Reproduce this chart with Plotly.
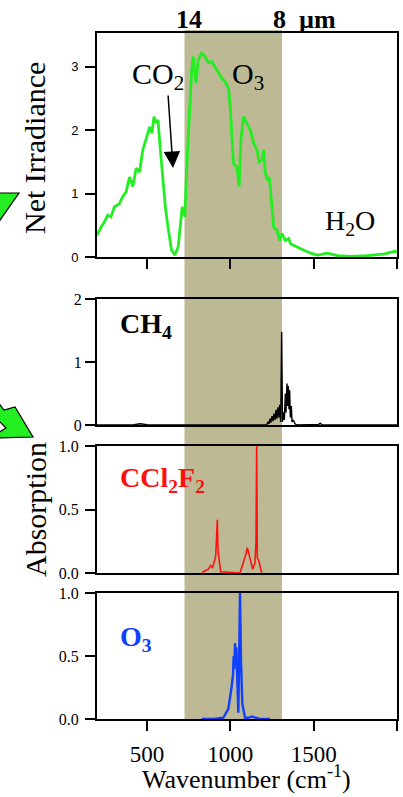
import plotly.graph_objects as go

# ---------------- data ----------------
irr_wn = [200,224,244,264,284,304,334,354,375,395,415,435,455,475,496,516,530,542,556,566,
          580,596,610,626,647,667,687,711,727,737,753,767,777,794,808,828,848,868,888,908,
          928,948,969,989,999,1009,1019,1039,1053,1063,1079,1099,1120,1140,1160,1173,1190,1200,1210,1224,
          1234,1246,1260,1280,1296,1310,1330,1350,1361,1422,1482,1523,1583,1643,1724,1820,1925,1986,2000]
irr_val = [0.34,0.47,0.55,0.66,0.63,0.79,0.84,0.95,1.03,1.26,1.11,1.40,1.34,1.69,1.87,2.05,1.95,2.21,2.11,2.16,
           1.69,1.21,0.79,0.47,0.11,0.03,0.16,0.79,0.63,1.32,2.11,2.90,3.16,2.74,3.11,3.21,3.16,3.06,3.08,3.00,
           2.92,2.82,2.76,2.66,2.37,1.95,1.47,1.42,1.11,1.84,2.21,2.11,2.00,1.79,1.69,1.50,1.53,1.69,1.32,1.21,
           1.26,0.90,0.47,0.42,0.26,0.37,0.26,0.29,0.21,0.13,0.06,0.03,0.06,0.02,0.01,0.02,0.05,0.09,0.08]

ch4_wn = [200,300,420,460,500,600,800,1000,1200,1218,1226,1232,1238,1244,1250,1256,1262,1268,1274,1280,
          1286,1292,1296,1302,1308,1313,1318,1324,1330,1334,1340,1344,1348,1352,1356,1360,1366,1370,1378,1388,
          1400,1500,1530,1540,1550,1600,1800,2000]
ch4_val = [0,0,0.005,0.02,0.005,0,0,0,0,0,0.05,0.02,0.10,0.04,0.14,0.06,0.18,0.08,0.24,0.10,
           0.28,0.12,0.32,0.05,1.48,0.05,0.20,0.08,0.50,0.20,0.66,0.30,0.62,0.25,0.55,0.12,0.30,0.05,0.08,0.02,
           0,0,0.01,0.03,0,0,0,0]

cfc_wn = [830,838,868,882,894,904,912,918,922,926,932,942,1058,1078,1094,1102,1108,1122,1134,1148,
          1154,1158,1162,1170,1178,1188]
cfc_val = [0,0.01,0.03,0.06,0.04,0.10,0.13,0.30,0.42,0.18,0.13,0.01,0,0.08,0.15,0.20,0.17,0.08,0.03,0.08,
           0.25,1.00,0.12,0.10,0.06,0]

o3_wn = [828,900,958,988,1008,1016,1020,1024,1028,1032,1036,1042,1048,1054,1058,1064,1072,1088,1110,1128,
         1150,1178,1238]
o3_val = [0,0,0.01,0.08,0.26,0.35,0.50,0.40,0.60,0.45,0.57,0.30,0.05,0.60,1.00,0.46,0.12,0.01,0.01,0.02,
          0.01,0,0]

band_wn = [725, 1310]          # 14 um .. 8 um window
x_range = [200, 2000]
x_tickvals = [500, 1000, 1500, 2000]
x_ticktext = ["500", "1000", "1500", ""]

# ---------------- layout helpers ----------------
W, H = 403, 797
def PX(x): return x / W
def PY(y): return 1 - y / H

X_L, X_R = 97, 397
panels = [(33, 257), (299, 425), (446, 573), (593, 719)]   # pixel top/bottom of each panel
y_ranges = [[0, 3.53], [0, 2], [0, 1], [0, 1]]

SERIF = "Liberation Serif, Times New Roman, serif"
SANS = "Liberation Sans, Arial, sans-serif"

fig = go.Figure()
fig.add_trace(go.Scatter(x=irr_wn, y=irr_val, mode="lines", line=dict(color="#22ee22", width=2.8),
                         xaxis="x", yaxis="y", hoverinfo="skip"))
fig.add_trace(go.Scatter(x=ch4_wn, y=ch4_val, mode="lines", line=dict(color="black", width=1.4),
                         xaxis="x2", yaxis="y2", hoverinfo="skip"))
fig.add_trace(go.Scatter(x=cfc_wn, y=cfc_val, mode="lines", line=dict(color="#ff1010", width=1.6),
                         xaxis="x3", yaxis="y3", hoverinfo="skip"))
fig.add_trace(go.Scatter(x=o3_wn, y=o3_val, mode="lines", line=dict(color="#1040ff", width=2.4),
                         xaxis="x4", yaxis="y4", hoverinfo="skip"))

layout = dict(width=W, height=H, margin=dict(l=0, r=0, t=0, b=0, pad=0, autoexpand=False),
              paper_bgcolor="white", plot_bgcolor="rgba(0,0,0,0)", showlegend=False)

for i, (top, bot) in enumerate(panels):
    n = "" if i == 0 else str(i + 1)
    xa = dict(domain=[PX(X_L), PX(X_R)], range=x_range, anchor="y" + n, showgrid=False, zeroline=False,
              showline=True, mirror=True, linecolor="black", linewidth=2, automargin=False,
              tickvals=x_tickvals, ticktext=x_ticktext, tickcolor="black", tickwidth=2, ticklen=10,
              ticks="outside" if i in (0, 3) else "", showticklabels=(i == 3),
              tickfont=dict(family=SERIF, size=23, color="black"), ticklabelstandoff=3)
    if i > 0:
        xa["matches"] = "x"
    ya = dict(domain=[PY(bot), PY(top)], range=y_ranges[i], anchor="x" + n, showgrid=False, zeroline=False,
              showline=True, mirror=True, linecolor="black", linewidth=2, automargin=False,
              ticks="outside", tickcolor="black", tickwidth=2, ticklen=10)
    if i == 0:
        ya.update(tickvals=[0, 1, 2, 3], tickfont=dict(family=SANS, size=13, color="black"), ticklabelstandoff=4)
    elif i == 1:
        ya.update(tickvals=[0, 1, 2], tickfont=dict(family=SERIF, size=16, color="black"), ticklabelstandoff=0)
    else:
        ya.update(tickvals=[0, 0.5, 1], ticktext=["0.0", "0.5", "1.0"],
                  tickfont=dict(family=SERIF, size=16, color="black"), ticklabelstandoff=3)
    layout["xaxis" + n] = xa
    layout["yaxis" + n] = ya

shapes = [dict(type="rect", xref="x", yref="paper", x0=band_wn[0], x1=band_wn[1],
               y0=PY(719), y1=PY(30), fillcolor="#bcb994", line=dict(width=0), layer="below")]

def poly(pts):
    s = "M " + " L ".join(f"{PX(x):.5f},{PY(y):.5f}" for x, y in pts) + " Z"
    return s

shapes.append(dict(type="path", xref="paper", yref="paper",
                   path=poly([(-2, 193), (19, 193), (-2, 223)]),
                   fillcolor="#22ee22", line=dict(color="black", width=1.2)))
shapes.append(dict(type="path", xref="paper", yref="paper",
                   path=poly([(-2, 402), (4, 410), (15, 407), (33, 437), (-2, 438), (-2, 433),
                              (6, 428), (-2, 420)]),
                   fillcolor="#22ee22", line=dict(color="black", width=1.2)))
layout["shapes"] = shapes

def ann(text, x, y, size, color="black", xanchor="center", yanchor="middle", angle=0, family=SERIF):
    return dict(text=text, x=PX(x), y=PY(y), xref="paper", yref="paper", showarrow=False,
                xanchor=xanchor, yanchor=yanchor, textangle=angle,
                font=dict(family=family, size=size, color=color))

annotations = [
    ann("<b>14</b>", 189, 19, 26),
    ann("<b>8  µm</b>", 271, 19, 26, xanchor="left"),
    ann("CO<sub>2</sub>", 158, 76, 30),
    ann("O<sub>3</sub>", 248, 76, 30),
    ann("H<sub>2</sub>O", 350, 222, 28),
    ann("<b>CH<sub>4</sub></b>", 118, 325, 28, xanchor="left"),
    ann("<b>CCl<sub>2</sub>F<sub>2</sub></b>", 118, 479, 28, color="#ff1010", xanchor="left"),
    ann("<b>O<sub>3</sub></b>", 118, 638, 28, color="#1040ff", xanchor="left"),
    ann("Net Irradiance", 35, 148, 30, angle=-90),
    ann("Absorption", 35, 510, 30, angle=-90),
    ann("Wavenumber (cm<sup>-1</sup>)", 246, 796, 26, yanchor="bottom"),
    dict(text="", x=PX(173), y=PY(168), xref="paper", yref="paper", showarrow=True,
         ax=-5, ay=-74, axref="pixel", ayref="pixel", arrowhead=2, arrowsize=2.2, arrowwidth=1.5,
         arrowcolor="black"),
]
layout["annotations"] = annotations

fig.update_layout(**layout)
fig.write_html("out.html", config={"displayModeBar": False, "staticPlot": True},
               post_script="document.body.style.margin='0px';document.body.style.overflow='hidden';")
